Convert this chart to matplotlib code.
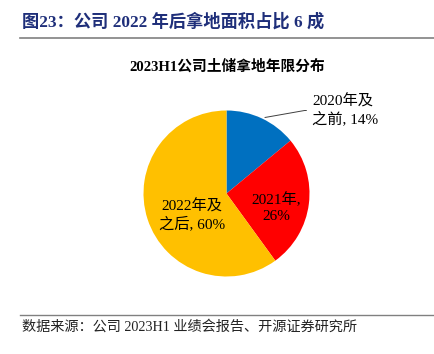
import matplotlib
matplotlib.use("Agg")
import matplotlib.pyplot as plt

plt.rcParams['font.family'] = ['Liberation Serif', 'Noto Sans CJK SC']

categories = ["2020年及\n之前", "2021年,", "2022年及\n之后"]
shares = [14, 26, 60]
colors = ["#0070C0", "#FF0000", "#FFC000"]

W, H = 434, 354
fig = plt.figure(figsize=(W / 100, H / 100), dpi=100)
fig.patch.set_facecolor('white')

# pie centre / radius in pixels
cx, cy, r = 226.5, 193.5, 83
ax = fig.add_axes([(cx - r) / W, (H - cy - r) / H, 2 * r / W, 2 * r / H])
ax.pie(shares, colors=colors, startangle=90, counterclock=False, radius=1,
       wedgeprops=dict(linewidth=0))
ax.set_xlim(-1, 1); ax.set_ylim(-1, 1); ax.set_aspect('equal'); ax.axis('off')

lab_fs = 11
ax.annotate(f"{categories[0]}, {shares[0]}%", xy=(0.43, 0.91), xytext=(1.03, 1.0),
            ha='left', va='center', fontsize=lab_fs, linespacing=1.25,
            arrowprops=dict(arrowstyle='-', color='#404040', lw=0.7,
                            connectionstyle="angle,angleA=0,angleB=10,rad=0"),
            annotation_clip=False)
ax.text(0.60, -0.17, f"{categories[1]}\n{shares[1]}%", ha='center', va='center',
        fontsize=lab_fs, linespacing=1.25)
ax.text(-0.42, -0.26, f"{categories[2]}, {shares[2]}%", ha='center', va='center',
        fontsize=lab_fs, linespacing=1.25)

# header / footer
fig.text(22 / W, 1 - 22 / H, "图23：公司 2022 年后拿地面积占比 6 成", ha='left', va='center',
         fontsize=12.4, fontweight='bold', color='#1F2F7A')
fig.add_artist(plt.Line2D([20 / W, 1], [1 - 38 / H] * 2, color='#808080', lw=1.2))
fig.text(227 / W, 1 - 67 / H, "2023H1公司土储拿地年限分布", ha='center', va='center',
         fontsize=10.6, fontweight='bold', color='black')
fig.add_artist(plt.Line2D([20 / W, 1], [1 - 315 / H] * 2, color='#808080', lw=1.0))
fig.text(22 / W, 1 - 327 / H, "数据来源：公司 2023H1 业绩会报告、开源证券研究所", ha='left',
         va='center', fontsize=10.2, color='#222222')

fig.savefig("out.png", dpi=100, facecolor='white')
